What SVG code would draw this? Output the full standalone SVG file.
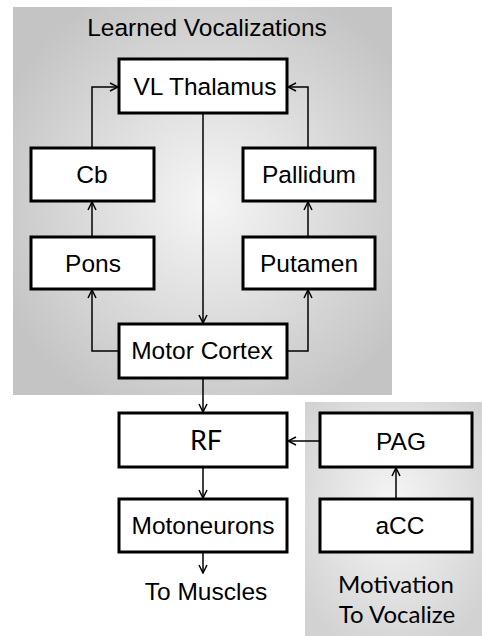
<svg xmlns="http://www.w3.org/2000/svg" width="482" height="636" viewBox="0 0 482 636">
<defs>
<radialGradient id="g1" cx="0.52" cy="0.5" r="0.6">
<stop offset="0" stop-color="#f6f6f6"/>
<stop offset="1" stop-color="#c4c4c4"/>
</radialGradient>
<radialGradient id="g2" cx="0.5" cy="0.45" r="0.65">
<stop offset="0" stop-color="#f6f6f6"/>
<stop offset="1" stop-color="#d2d2d2"/>
</radialGradient>
<marker id="ah" viewBox="0 0 10 10" refX="9" refY="5" markerWidth="10" markerHeight="10" markerUnits="userSpaceOnUse" orient="auto">
<path d="M1,1 L9,5 L1,9" fill="none" stroke="#000" stroke-width="1.5"/>
</marker>
<style>
.box{fill:#fff;stroke:#000;stroke-width:3}
.t{font-family:"Liberation Sans",Arial,sans-serif;font-size:24.5px;text-anchor:middle;fill:#000}
.c{font-family:"Lato","Open Sans",sans-serif;font-size:27px;text-anchor:middle;fill:#000}
.m{font-family:"Lato","Open Sans",sans-serif;font-size:24px;text-anchor:middle;fill:#000}
.ln{fill:none;stroke:#000;stroke-width:1.5;marker-end:url(#ah)}
</style>
</defs>
<rect x="13" y="7" width="379" height="388" fill="url(#g1)"/>
<rect x="305" y="402" width="177" height="234" fill="url(#g2)"/>
<text class="t" x="207" y="36">Learned Vocalizations</text>
<g id="connectors">
<path class="ln" d="M92,148 V87 H118"/>
<path class="ln" d="M308,148 V87 H288"/>
<path class="ln" d="M92,237 V202"/>
<path class="ln" d="M308,237 V202"/>
<path class="ln" d="M203,113 V323"/>
<path class="ln" d="M119,351 H92 V290"/>
<path class="ln" d="M287,351 H308 V290"/>
<path class="ln" d="M203,378 V412"/>
<path class="ln" d="M320,441 H288"/>
<path class="ln" d="M396,499 V468"/>
<path class="ln" d="M203,467 V498"/>
<path class="ln" d="M203,552 V573"/>
</g>
<g id="vl-thalamus"><rect class="box" x="119" y="59" width="168" height="54"/><text class="t" x="205" y="95">VL Thalamus</text></g>
<g id="cb"><rect class="box" x="31" y="148" width="123" height="53"/><text class="t" x="92" y="183">Cb</text></g>
<g id="pallidum"><rect class="box" x="243" y="148" width="132" height="53"/><text class="t" x="309" y="183">Pallidum</text></g>
<g id="pons"><rect class="box" x="31" y="237" width="123" height="52"/><text class="t" x="93" y="272">Pons</text></g>
<g id="putamen"><rect class="box" x="243" y="237" width="132" height="52"/><text class="t" x="309" y="272">Putamen</text></g>
<g id="motor-cortex"><rect class="box" x="119" y="324" width="168" height="54"/><text class="t" x="202" y="359">Motor Cortex</text></g>
<g id="rf"><rect class="box" x="119" y="413" width="168" height="54"/><text class="c" x="206" y="450">RF</text></g>
<g id="pag"><rect class="box" x="320" y="413" width="152" height="54"/><text class="t" x="401" y="450">PAG</text></g>
<g id="motoneurons"><rect class="box" x="119" y="499" width="168" height="53"/><text class="t" x="203" y="534">Motoneurons</text></g>
<g id="acc"><rect class="box" x="320" y="499" width="152" height="53"/><text class="t" x="400" y="534">aCC</text></g>
<g id="to-muscles"><text class="t" x="206" y="600">To Muscles</text></g>
<g id="motivation"><text class="m" x="396" y="593">Motivation</text><text class="m" x="397" y="623">To Vocalize</text></g>
</svg>
